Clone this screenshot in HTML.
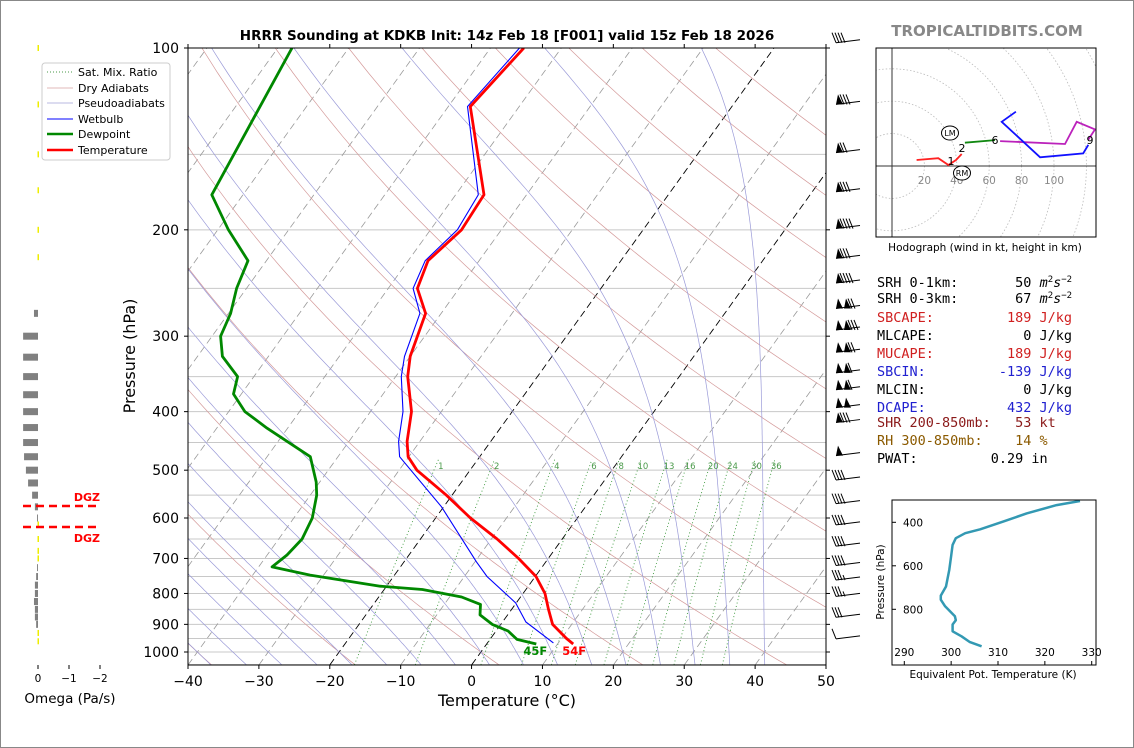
<!DOCTYPE html>
<html><head><meta charset="utf-8"><style>
html,body{margin:0;padding:0;background:#fff;}
svg{display:block;font-family:"DejaVu Sans","Liberation Sans",sans-serif;}
</style></head><body>
<svg id="fig" width="1134" height="748" viewBox="0 0 1134 748" xmlns="http://www.w3.org/2000/svg">
<rect x="0.5" y="0.5" width="1133" height="747" fill="#fff" stroke="#888"/>
<defs><clipPath id="plotclip"><rect x="188" y="48" width="638" height="617"/></clipPath>
<clipPath id="hodoclip"><rect x="876" y="48" width="220" height="189"/></clipPath>
<clipPath id="thclip"><rect x="892" y="500" width="204" height="165"/></clipPath></defs>
<g id="bg" clip-path="url(#plotclip)"></g>
<g id="prof" clip-path="url(#plotclip)"></g>
<g id="axes"></g>
<g id="barbs"></g>
<g id="omega"></g>
<g id="hodo"></g>
<g id="thetae"></g>
<text x="507" y="40" text-anchor="middle" font-size="13.5" font-weight="bold">HRRR Sounding at KDKB Init: 14z Feb 18 [F001] valid 15z Feb 18 2026</text>
<text x="987" y="36" text-anchor="middle" font-size="15" font-weight="bold" fill="#888">TROPICALTIDBITS.COM</text>
<text x="507" y="706" text-anchor="middle" font-size="16">Temperature (°C)</text>
<text transform="translate(135,356) rotate(-90)" text-anchor="middle" font-size="16">Pressure (hPa)</text>
<g>
<rect x="42" y="63" width="128" height="97" rx="3" fill="#fff" stroke="#ccc"/>
<line x1="47" y1="72" x2="73" y2="72" stroke="#4a9a4a" stroke-dasharray="1,2"/><text x="78" y="76" font-size="11">Sat. Mix. Ratio</text>
<line x1="47" y1="88" x2="73" y2="88" stroke="#d8a0a0" stroke-width="0.8"/><text x="78" y="92" font-size="11">Dry Adiabats</text>
<line x1="47" y1="103" x2="73" y2="103" stroke="#a0a0d8" stroke-width="0.8"/><text x="78" y="107" font-size="11">Pseudoadiabats</text>
<line x1="47" y1="119" x2="73" y2="119" stroke="#00f" stroke-width="1"/><text x="78" y="123" font-size="11">Wetbulb</text>
<line x1="47" y1="134" x2="73" y2="134" stroke="#080" stroke-width="2.5"/><text x="78" y="138" font-size="11">Dewpoint</text>
<line x1="47" y1="150" x2="73" y2="150" stroke="#f00" stroke-width="2.5"/><text x="78" y="154" font-size="11">Temperature</text>
</g>
<g font-family="'DejaVu Sans Mono','Liberation Mono',monospace" font-size="13.5">
<text x="877" y="287" xml:space="preserve">SRH 0-1km:       50 <tspan font-style="italic">m</tspan><tspan font-size="9" dy="-5">2</tspan><tspan dy="5" font-style="italic">s</tspan><tspan font-size="9" dy="-5">−2</tspan></text>
<text x="877" y="303" xml:space="preserve">SRH 0-3km:       67 <tspan font-style="italic">m</tspan><tspan font-size="9" dy="-5">2</tspan><tspan dy="5" font-style="italic">s</tspan><tspan font-size="9" dy="-5">−2</tspan></text>
<text x="877" y="322" xml:space="preserve" fill="#d02020">SBCAPE:         189 J/kg</text>
<text x="877" y="340" xml:space="preserve">MLCAPE:           0 J/kg</text>
<text x="877" y="358" xml:space="preserve" fill="#d02020">MUCAPE:         189 J/kg</text>
<text x="877" y="376" xml:space="preserve" fill="#2020d0">SBCIN:         -139 J/kg</text>
<text x="877" y="394" xml:space="preserve">MLCIN:            0 J/kg</text>
<text x="877" y="412" xml:space="preserve" fill="#2020d0">DCAPE:          432 J/kg</text>
<text x="877" y="427" xml:space="preserve" fill="#8b1a1a">SHR 200-850mb:   53 kt</text>
<text x="877" y="445" xml:space="preserve" fill="#8b5a00">RH 300-850mb:    14 %</text>
<text x="877" y="463" xml:space="preserve">PWAT:         0.29 in</text>
</g>
<script>
// ---- data ----
const tempP = [100,125,175,200,225,250,275,324,350,400,448,475,500,550,600,650,700,750,800,850,900,950,970];
const tempT = [-55.3,-56.9,-46.0,-45.6,-47.2,-45.9,-42.2,-40.0,-38.3,-34.2,-31.8,-30.1,-27.5,-20.8,-15.1,-9.2,-4.2,0.1,3.1,5.2,7.3,10.7,12.2];
const dewP = [100,175,200,225,250,275,300,324,350,374,400,426,475,523,550,600,650,691,723,746,778,788,811,834,868,900,923,953,970];
const dewT = [-88.0,-84.4,-78.5,-72.6,-71.4,-69.7,-68.8,-66.5,-62.3,-61.1,-57.7,-52.9,-43.9,-40.5,-39.1,-37.4,-36.7,-37.2,-38.1,-31.9,-20.9,-14.6,-8.3,-4.9,-3.9,-1.2,1.7,3.8,7.0];
const wbP = [100,125,175,200,225,250,275,324,350,400,448,475,575,709,750,829,892,966];
const wbT = [-55.9,-57.3,-46.8,-46.2,-47.6,-46.5,-43.0,-40.8,-39.2,-35.4,-33.0,-31.3,-20.3,-9.8,-6.8,-0.1,3.3,9.3];
const windP = [98,124,149,173,199,223,245,270,293,319,345,368,394,417,473,519,568,616,668,719,760,809,876,951];
const windSpd = [40,80,70,80,90,80,90,120,130,120,110,110,100,80,50,40,40,40,40,40,35,35,30,10];
const omegaP = [275,300,325,350,375,400,425,450,475,500,525,550,575,600,725,750,775,800,825,850,875,900];
const omegaV = [0.13,0.48,0.48,0.48,0.48,0.48,0.48,0.48,0.45,0.39,0.32,0.19,0.1,0.03,0.03,0.06,0.1,0.1,0.13,0.1,0.1,0.06];
const mixVals = [1,2,4,6,8,10,13,16,20,24,30,36];
const hodoRedU=[15.2,28.6,34.8,39.5,43], hodoRedV=[3.7,4.8,0.6,3.7,7.4];
const hodoGrnU=[45,63.6], hodoGrnV=[14.4,16];
const hodoMagU=[66.7,106.8,114,125.3,121], hodoMagV=[15.4,13.6,27.3,22.6,16];
const hodoBluU=[121.2,118,91.4,67.7,76.5], hodoBluV=[13,7.8,5.4,27.3,33.5];
const thetaE = [327.5,322.5,316.1,311.1,306.2,303,301,300.3,300,299.6,298.9,297.8,297.8,298.7,300.8,301,300.3,300.3,302.2,304,306.5];
const thetaP = [302,321,359,397,432,450,473,504,557,618,695,737,756,786,832,850,870,901,924,951,970];
const xTicks=[-40,-30,-20,-10,0,10,20,30,40,50];
const yTicks=[100,200,300,400,500,600,700,800,900,1000];

const NS="http://www.w3.org/2000/svg";
function mk(parent,tag,attrs,txt){const e=document.createElementNS(NS,tag);for(const k in attrs)e.setAttribute(k,attrs[k]);if(txt!==undefined)e.textContent=txt;parent.appendChild(e);return e;}
function yP(p){return 48+604*Math.log10(p/100);}
function xT(T,p){return 188+(T+40)*7.089+0.72*(665-yP(p));}
function path(Ts,Ps){return Ts.map((t,i)=>(i?'L':'M')+xT(t,Ps[i]).toFixed(1)+','+yP(Ps[i]).toFixed(1)).join('');}
const bg=document.getElementById('bg'),prof=document.getElementById('prof'),axes=document.getElementById('axes');

for(let p=100;p<=1050;p+=50){const l=mk(bg,'line',{x1:188,x2:826,y1:yP(p),y2:yP(p),stroke:'#c8c8c8','stroke-width':1});

}
for(let t=-140;t<=50;t+=10){const l=mk(bg,'line',{x1:xT(t,1050),y1:yP(1050),x2:xT(t,100),y2:yP(100),stroke:(t==0||t==-20)?'#000':'#999','stroke-width':(t==0||t==-20)?0.9:0.8,'stroke-dasharray':'7,4'});

}
for(let t=-40;t<=200;t+=20){const th=t+273.15;let Ts=[],Ps=[];for(let p=1050;p>=100;p-=10){Ps.push(p);Ts.push(th*Math.pow(p/1000,0.286)-273.15);}
const e=mk(bg,'path',{d:path(Ts,Ps),fill:'none',stroke:'#d49a9a','stroke-width':0.7});

}
function es(Tc){return 6.112*Math.exp(17.67*Tc/(Tc+243.5));}
function dTdp(T,p){const e=es(T-273.15);const rs=0.622*e/(p-e);return (287*T+2.5e6*rs)/(1005+2.5e6*2.5e6*rs*0.622/(287*T*T))/p;}
for(let t=-40;t<=40;t+=5){let T=t+273.15;let arr=[];let TT=T;for(let p=1000;p<=1050;p+=5){arr.push([p,TT]);TT+=dTdp(TT,p)*5;}
arr.reverse();TT=T;for(let p=1000;p>=100;p-=5){if(p<1000)arr.push([p,TT]);const k1=dTdp(TT,p),k2=dTdp(TT-k1*2.5,p-2.5);TT-=k2*5;}
const e=mk(bg,'path',{d:path(arr.map(a=>a[1]-273.15),arr.map(a=>a[0])),fill:'none',stroke:'#9a9ad8','stroke-width':0.7});

}
function tdFromW(w,p){const e=w/1000*p/(0.622+w/1000);const l=Math.log(e/6.112);return 243.5*l/(17.67-l);}
mixVals.forEach(w=>{let Ts=[],Ps=[];for(let p=1050;p>=480;p-=10){Ps.push(p);Ts.push(tdFromW(w,p));}
const e=mk(bg,'path',{d:path(Ts,Ps),fill:'none',stroke:'#3f9a3f','stroke-width':0.9,'stroke-dasharray':'1,2.5'});


const lb=mk(bg,'text',{x:xT(tdFromW(w,470),470),y:469,'text-anchor':'middle','font-size':8.5,fill:'#4a9a4a'},String(w));

});
let e1=mk(prof,'path',{d:path(dewT,dewP),fill:'none',stroke:'#080','stroke-width':2.8,'stroke-linejoin':'round'});


let e2=mk(prof,'path',{d:path(wbT,wbP),fill:'none',stroke:'#00f','stroke-width':1.1});


let e3=mk(prof,'path',{d:path(tempT,tempP),fill:'none',stroke:'#f00','stroke-width':2.8,'stroke-linejoin':'round'});


const sfT=tempT[tempT.length-1],sfD=dewT[dewT.length-1];
let l1=mk(axes,'text',{x:xT(sfD,dewP[dewP.length-1])-1,y:655,'text-anchor':'middle','font-size':11.5,'font-weight':'bold',fill:'#080'},Math.round(sfD*9/5+32)+'F');


let l2=mk(axes,'text',{x:xT(sfT,tempP[tempP.length-1])+1,y:655,'text-anchor':'middle','font-size':11.5,'font-weight':'bold',fill:'#f00'},Math.round(sfT*9/5+32)+'F');


let fr=mk(axes,'rect',{x:188,y:48,width:638,height:617,fill:'none',stroke:'#000','stroke-width':1});


xTicks.forEach(t=>{const x=188+(t+40)*7.089;mk(axes,'line',{x1:x,x2:x,y1:665,y2:669,stroke:'#000'});mk(axes,'line',{x1:x,x2:x,y1:48,y2:44,stroke:'#000'});
const tx=mk(axes,'text',{x:x,y:686,'text-anchor':'middle','font-size':14},(t<0?'−':'')+Math.abs(t));

});
yTicks.forEach(p=>{const y=yP(p);mk(axes,'line',{x1:184,x2:188,y1:y,y2:y,stroke:'#000'});mk(axes,'line',{x1:826,x2:830,y1:y,y2:y,stroke:'#000'});
const tx=mk(axes,'text',{x:179,y:y+5,'text-anchor':'end','font-size':14},String(p));

});
const bb=document.getElementById('barbs');
windP.forEach((p,i)=>{const y=yP(p);const g=mk(bb,'g',{});


let s=windSpd[i];const x0=836;mk(g,'line',{x1:x0,y1:y,x2:860,y2:y-3,stroke:'#000','stroke-width':1});
let x=x0;while(s>=50){mk(g,'polygon',{points:`${x},${y} ${x+7},${y} ${x+2},${y-10}`,fill:'#000'});x+=8;s-=50;}
while(s>=10){mk(g,'line',{x1:x,y1:y,x2:x-4,y2:y-10,stroke:'#000','stroke-width':1});x+=3;s-=10;}
if(s>=5){mk(g,'line',{x1:x,y1:y,x2:x-2,y2:y-5,stroke:'#000','stroke-width':1});}
});
const om=document.getElementById('omega');
const yel=[100,124,150,172,200,222,615,650,680,700,930,960];
yel.forEach(p=>{const r=mk(om,'rect',{x:37.5,y:yP(p)-3,width:1.5,height:6,fill:'#ee0'});

});
omegaP.forEach((p,i)=>{const w=omegaV[i]*31;const r=mk(om,'rect',{x:38-w,y:yP(p)-3.5,width:w,height:7,fill:'#808080'});

});
[[0,'0'],[-1,'−1'],[-2,'−2']].forEach(a=>{const x=38-a[0]*31;mk(om,'line',{x1:x,x2:x,y1:665,y2:669,stroke:'#000'});
const t=mk(om,'text',{x:x,y:682,'text-anchor':'middle','font-size':10.5},a[1]);

});
let ot=mk(om,'text',{x:70,y:703,'text-anchor':'middle','font-size':13.5},'Omega (Pa/s)');


[506,527].forEach(y=>{const l=mk(om,'line',{x1:23,x2:100,y1:y,y2:y,stroke:'#f00','stroke-width':2.5,'stroke-dasharray':'8,5'});

});
[[501,'dgz-top-label'],[542,'dgz-bottom-label']].forEach(a=>{const t=mk(om,'text',{x:100,y:a[0],'text-anchor':'end','font-size':11,'font-weight':'bold',fill:'#f00'},'DGZ');

});
const hd=document.getElementById('hodo');const ox=892,oy=166,hs=1.62;
const hc=mk(hd,'g',{'clip-path':'url(#hodoclip)'});
for(let r=20;r<=140;r+=20){mk(hc,'circle',{cx:ox,cy:oy,r:r*hs,fill:'none',stroke:'#bbb','stroke-width':0.8,'stroke-dasharray':'1.5,2'});}
mk(hc,'line',{x1:876,x2:1096,y1:oy,y2:oy,stroke:'#333','stroke-width':1});
mk(hc,'line',{x1:ox,x2:ox,y1:48,y2:237,stroke:'#333','stroke-width':1});
[20,40,60,80,100].forEach(v=>{const t=mk(hc,'text',{x:ox+v*hs,y:184,'text-anchor':'middle','font-size':10.5,fill:'#888'},String(v));

});
function hpath(U,V){return U.map((u,i)=>(i?'L':'M')+(ox+u*hs).toFixed(1)+','+(oy-V[i]*hs).toFixed(1)).join('');}
[[hodoRedU,hodoRedV,'#f22','hodo-0-1km'],[hodoGrnU,hodoGrnV,'#181','hodo-2-6km'],[hodoMagU,hodoMagV,'#b2b','hodo-6-9km'],[hodoBluU,hodoBluV,'#11f','hodo-9km-plus']].forEach(a=>{
const e=mk(hc,'path',{d:hpath(a[0],a[1]),fill:'none',stroke:a[2],'stroke-width':1.8});

});
[[951,165,'1'],[962,152,'2'],[995,144,'6'],[1090,144,'9']].forEach(a=>{const t=mk(hc,'text',{x:a[0],y:a[1],'text-anchor':'middle','font-size':11},a[2]);

});
[[950,133,'LM','left-mover'],[962,173,'RM','right-mover']].forEach(a=>{mk(hc,'ellipse',{cx:a[0],cy:a[1],rx:8.5,ry:7,fill:'#fff',stroke:'#000'});
const t=mk(hc,'text',{x:a[0],y:a[1]+3,'text-anchor':'middle','font-size':8},a[2]);

});
mk(hd,'rect',{x:876,y:48,width:220,height:189,fill:'none',stroke:'#000'});
let hl=mk(hd,'text',{x:985,y:251,'text-anchor':'middle','font-size':10.5},'Hodograph (wind in kt, height in km)');


const te=document.getElementById('thetae');
function thx(t){return 904.3+(t-290)*4.685;} function thy(p){return 522.3+(p-400)*0.2175;}
[290,300,310,320,330].forEach(t=>{mk(te,'line',{x1:thx(t),x2:thx(t),y1:665,y2:661,stroke:'#000'});
const tx=mk(te,'text',{x:thx(t),y:656,'text-anchor':'middle','font-size':10.5},String(t));

});
[400,600,800].forEach(p=>{mk(te,'line',{x1:892,x2:896,y1:thy(p),y2:thy(p),stroke:'#000'});
const tx=mk(te,'text',{x:923,y:thy(p)+4,'text-anchor':'end','font-size':10.5},String(p));

});
const tp=mk(te,'path',{'clip-path':'url(#thclip)',d:thetaE.map((t,i)=>(i?'L':'M')+thx(t).toFixed(1)+','+thy(thetaP[i]).toFixed(1)).join(''),fill:'none',stroke:'#3399b3','stroke-width':2.5,'stroke-linejoin':'round'});


mk(te,'rect',{x:892,y:500,width:204,height:165,fill:'none',stroke:'#000'});
let tx1=mk(te,'text',{x:993,y:678,'text-anchor':'middle','font-size':10.5},'Equivalent Pot. Temperature (K)');


let tx2=mk(te,'text',{transform:'translate(884,582) rotate(-90)','text-anchor':'middle','font-size':10.5},'Pressure (hPa)');


</script>
</svg>
</body></html>
